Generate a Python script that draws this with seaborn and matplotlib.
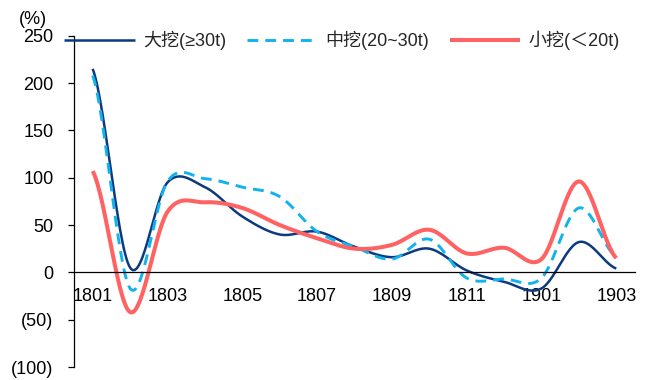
import numpy as np
import pandas as pd
import matplotlib
matplotlib.use("Agg")
import matplotlib.pyplot as plt
import seaborn as sns
from matplotlib.ticker import FixedLocator, FuncFormatter

categories = ["1801", "1802", "1803", "1804", "1805", "1806", "1807", "1808",
              "1809", "1810", "1811", "1812", "1901", "1902", "1903"]
large = [215, 5, 95, 90, 59, 40, 43, 27, 16, 25, 2, -10, -17, 32, 4]
medium = [208, -17, 96, 99, 90, 80, 43, 27, 14, 35, -6, -7, -6, 68, 16]
small = [107, -42, 64, 74, 68, 50, 36, 25, 29, 45, 20, 26, 14, 96, 15]
series_names = ["大挖(≥30t)", "中挖(20~30t)", "小挖(＜20t)"]
colors = ["#0B3A7E", "#12B2EE", "#FF6262"]

sns.set_theme(style="white")
plt.rcParams['font.family'] = ['Liberation Sans', 'Noto Sans CJK SC', 'DejaVu Sans']
plt.rcParams['axes.unicode_minus'] = False


def catmull_rom(y, n=30):
    y = np.asarray(y, dtype=float)
    p = np.concatenate([[y[0]], y, [y[-1]]])
    xs, ys = [], []
    for i in range(len(y) - 1):
        p0, p1, p2, p3 = p[i], p[i + 1], p[i + 2], p[i + 3]
        t = np.linspace(0, 1, n, endpoint=False)
        m1 = (p2 - p0) / 2
        m2 = (p3 - p1) / 2
        h00 = 2 * t**3 - 3 * t**2 + 1
        h10 = t**3 - 2 * t**2 + t
        h01 = -2 * t**3 + 3 * t**2
        h11 = t**3 - t**2
        xs.extend(i + t)
        ys.extend(h00 * p1 + h10 * m1 + h01 * p2 + h11 * m2)
    xs.append(len(y) - 1)
    ys.append(y[-1])
    return np.array(xs), np.array(ys)


frames = []
for name, vals in zip(series_names, [large, medium, small]):
    sx, sy = catmull_rom(vals)
    frames.append(pd.DataFrame({"x": sx, "y": sy, "series": name}))
df = pd.concat(frames, ignore_index=True)

fig = plt.figure(figsize=(6.64, 3.8), dpi=100)
ax = fig.add_axes([74 / 664, 13 / 380, (635 - 74) / 664, (367 - 35.7) / 380])

styles = {
    series_names[0]: dict(lw=1.8, ls="-"),
    series_names[1]: dict(lw=2.1, ls=(0, (3.7, 2.4))),
    series_names[2]: dict(lw=2.9, ls="-"),
}
for name, col in zip(series_names, colors):
    sub = df[df["series"] == name]
    sns.lineplot(data=sub, x="x", y="y", ax=ax, color=col, sort=False,
                 linewidth=styles[name]["lw"], linestyle=styles[name]["ls"],
                 label=name, legend=False, solid_capstyle="butt", dash_capstyle="butt")

ax.set_xlim(-0.5, len(categories) - 0.5)
ax.set_ylim(-100, 250)
ax.set_xlabel("")
ax.set_ylabel("")

for s in ["top", "right"]:
    ax.spines[s].set_visible(False)
ax.spines["bottom"].set_position(("data", 0))
for s in ["left", "bottom"]:
    ax.spines[s].set_color("#000000")
    ax.spines[s].set_linewidth(0.9)

label_pos = list(range(0, len(categories), 2))
ax.xaxis.set_major_locator(FixedLocator(label_pos))
ax.set_xticklabels([categories[i] for i in label_pos])
ax.xaxis.set_minor_locator(FixedLocator([i - 0.5 for i in label_pos]))
ax.tick_params(axis="x", which="major", length=0, pad=11.5, labelsize=13, colors="#000000")
ax.tick_params(axis="x", which="minor", length=4.5, width=0.9, direction="out", color="#000000")

ax.set_yticks(np.arange(-100, 251, 50))
ax.yaxis.set_major_formatter(FuncFormatter(lambda v, p: f"({int(-v)})" if v < 0 else f"{int(v)}"))
ax.tick_params(axis="y", which="major", length=4.2, width=0.9, direction="out",
               left=True, labelsize=13, colors="#000000", pad=10.5)
ax.grid(False)

fig.text(33 / 664, 1 - 19.5 / 380, "(%)", ha="center", va="center", fontsize=13, color="#000000")

handles, labels = ax.get_legend_handles_labels()
fig.legend(handles, labels, loc="center", bbox_to_anchor=(342 / 664, 1 - 40.5 / 380),
           ncol=3, frameon=False, fontsize=13, handlelength=3.9, handletextpad=0.45,
           columnspacing=1.15, borderpad=0, borderaxespad=0)

fig.savefig("out.png", dpi=100)
